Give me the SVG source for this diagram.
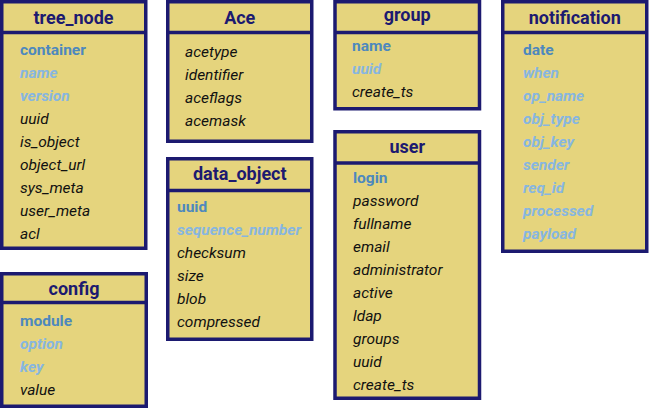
<svg xmlns="http://www.w3.org/2000/svg" width="649" height="408" viewBox="0 0 649 408">
<style>
.box{fill:#e5d47d;stroke:#1c1a70;stroke-width:3.5}
.div{stroke:#1c1a70;stroke-width:3.5}
.hdr{font-family:Roboto,"Liberation Sans",sans-serif;font-weight:bold;font-size:18px;fill:#1c1a70;text-anchor:middle}
.f{font-family:Roboto,"Liberation Sans",sans-serif;font-size:15.5px;font-style:italic;fill:#111}
.pk{font-style:normal;font-weight:bold;fill:#4d88be}
.pp{font-weight:bold;fill:#87b6e0}
</style>
<g id="tree_node">
<rect class="box" x="1.75" y="1.75" width="144" height="246.5"/>
<line class="div" x1="1.75" y1="32.5" x2="145.75" y2="32.5"/>
<text class="hdr" x="73.5" y="23.5">tree_node</text>
<text class="f pk" x="20" y="55">container</text>
<text class="f pp" x="20" y="78">name</text>
<text class="f pp" x="20" y="101">version</text>
<text class="f" x="20" y="124">uuid</text>
<text class="f" x="20" y="147">is_object</text>
<text class="f" x="20" y="170">object_url</text>
<text class="f" x="20" y="193">sys_meta</text>
<text class="f" x="20" y="216">user_meta</text>
<text class="f" x="20" y="239">acl</text>
</g>
<g id="config">
<rect class="box" x="1.75" y="273.75" width="144.5" height="132.5"/>
<line class="div" x1="1.75" y1="302.5" x2="146.25" y2="302.5"/>
<text class="hdr" x="74" y="294.5">config</text>
<text class="f pk" x="20" y="326">module</text>
<text class="f pp" x="20" y="349">option</text>
<text class="f pp" x="20" y="372">key</text>
<text class="f" x="20" y="395">value</text>
</g>
<g id="Ace">
<rect class="box" x="167.75" y="1.75" width="144" height="139.5"/>
<line class="div" x1="167.75" y1="32.5" x2="311.75" y2="32.5"/>
<text class="hdr" x="239.75" y="24">Ace</text>
<text class="f" x="185" y="57">acetype</text>
<text class="f" x="185" y="80">identifier</text>
<text class="f" x="185" y="103">aceflags</text>
<text class="f" x="185" y="126">acemask</text>
</g>
<g id="data_object">
<rect class="box" x="167.75" y="158.75" width="144" height="180.5"/>
<line class="div" x1="167.75" y1="190.5" x2="311.75" y2="190.5"/>
<text class="hdr" x="239.75" y="180">data_object</text>
<text class="f pk" x="177" y="212">uuid</text>
<text class="f pp" x="177" y="235">sequence_number</text>
<text class="f" x="177" y="258">checksum</text>
<text class="f" x="177" y="281">size</text>
<text class="f" x="177" y="304">blob</text>
<text class="f" x="177" y="327">compressed</text>
</g>
<g id="group">
<rect class="box" x="335" y="1.75" width="144.5" height="107"/>
<line class="div" x1="335" y1="32.5" x2="479.5" y2="32.5"/>
<text class="hdr" x="407.25" y="21">group</text>
<text class="f pk" x="352" y="51">name</text>
<text class="f pp" x="352" y="74">uuid</text>
<text class="f" x="352" y="97">create_ts</text>
</g>
<g id="user">
<rect class="box" x="335" y="131.75" width="144.5" height="266.5"/>
<line class="div" x1="335" y1="163" x2="479.5" y2="163"/>
<text class="hdr" x="407.25" y="152.5">user</text>
<text class="f pk" x="353" y="183">login</text>
<text class="f" x="353" y="206">password</text>
<text class="f" x="353" y="229">fullname</text>
<text class="f" x="353" y="252">email</text>
<text class="f" x="353" y="275">administrator</text>
<text class="f" x="353" y="298">active</text>
<text class="f" x="353" y="321">ldap</text>
<text class="f" x="353" y="344">groups</text>
<text class="f" x="353" y="367">uuid</text>
<text class="f" x="353" y="390">create_ts</text>
</g>
<g id="notification">
<rect class="box" x="502.75" y="1.75" width="144" height="249.5"/>
<line class="div" x1="502.75" y1="32.5" x2="646.75" y2="32.5"/>
<text class="hdr" x="574.75" y="24">notification</text>
<text class="f pk" x="523" y="55">date</text>
<text class="f pp" x="523" y="78">when</text>
<text class="f pp" x="523" y="101">op_name</text>
<text class="f pp" x="523" y="124">obj_type</text>
<text class="f pp" x="523" y="147">obj_key</text>
<text class="f pp" x="523" y="170">sender</text>
<text class="f pp" x="523" y="193">req_id</text>
<text class="f pp" x="523" y="216">processed</text>
<text class="f pp" x="523" y="239">payload</text>
</g>
<g id="connectors"></g>
</svg>
